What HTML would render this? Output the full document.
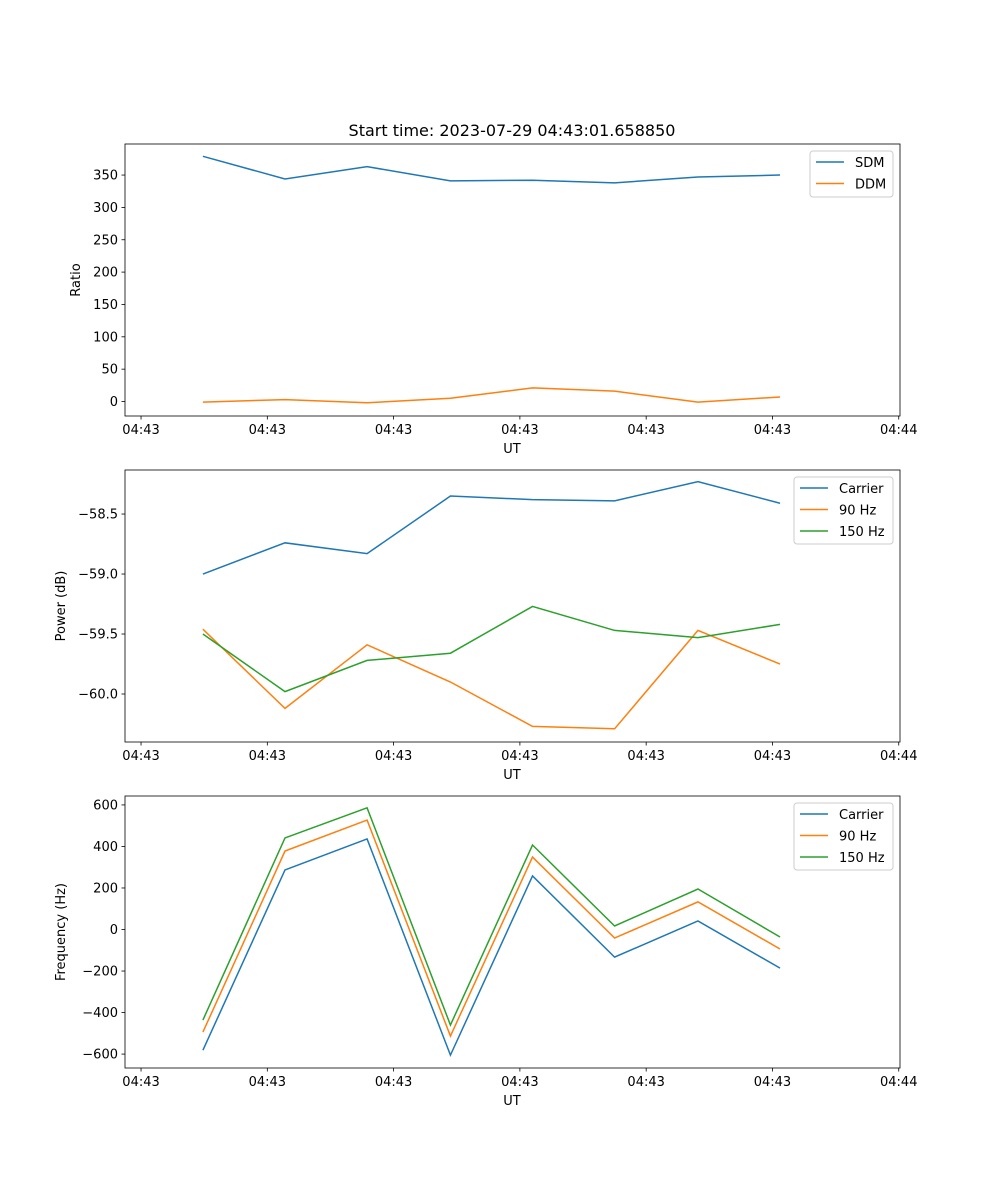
<!DOCTYPE html>
<html><head><meta charset="utf-8"><style>
body{margin:0;background:#fff}
svg{display:block;font-family:"DejaVu Sans","Liberation Sans",sans-serif}
</style></head><body>
<svg id="fig" width="1000" height="1200" xmlns="http://www.w3.org/2000/svg">
<rect width="1000" height="1200" fill="#fff"/>
<text x="512" y="136" font-size="16" text-anchor="middle">Start time: 2023-07-29 04:43:01.658850</text>
</svg>
<script>
const times = [4.9, 11.4, 17.9, 24.5, 31.0, 37.5, 44.1, 50.6];
const xTickValues = [0, 10, 20, 30, 40, 50, 60];
const xTickLabels = ["04:43","04:43","04:43","04:43","04:43","04:43","04:44"];
const sdm = [379, 344, 363, 341, 342, 338, 347, 350];
const ddm = [-1, 3, -2, 5, 21, 16, -1, 7];
const powCarrier = [-59.0, -58.74, -58.83, -58.35, -58.38, -58.39, -58.23, -58.41];
const pow90 = [-59.46, -60.12, -59.59, -59.9, -60.27, -60.29, -59.47, -59.75];
const pow150 = [-59.5, -59.98, -59.72, -59.66, -59.27, -59.47, -59.53, -59.42];
const freqCarrier = [-581, 287, 436, -605, 258, -133, 41, -186];
const freq90 = [-494, 378, 527, -513, 349, -41, 133, -94];
const freq150 = [-436, 441, 586, -460, 407, 17, 195, -36];
const ratioTicks = [0, 50, 100, 150, 200, 250, 300, 350];
const powTicks = [-60.0, -59.5, -59.0, -58.5];
const freqTicks = [-600, -400, -200, 0, 200, 400, 600];

const NS = "http://www.w3.org/2000/svg";
const svg = document.getElementById("fig");
function mk(tag, attrs, parent){const e=document.createElementNS(NS,tag);for(const k in attrs)e.setAttribute(k,attrs[k]);(parent||svg).appendChild(e);return e;}
const L=125,R=900,xMin=-1.27,xMax=60.1;
const xs=t=>L+(t-xMin)/(xMax-xMin)*(R-L);

function panel(top, yMin, yMax, yTicks, fmt, ylabel, series, legendW, name){
  const bot=top+272;
  const ys=v=>bot-(v-yMin)/(yMax-yMin)*272;
  const g=mk("g",{});
  
  
  series.forEach(s=>{
    const p=mk("polyline",{points:s.vals.map((v,i)=>xs(times[i])+","+ys(v)).join(" "),fill:"none",stroke:s.color,"stroke-width":1.5},g);
    
    
  });
  const fr=mk("rect",{x:L,y:top,width:R-L,height:272,fill:"none",stroke:"#000","stroke-width":0.8},g);
  
  
  xTickValues.forEach((t,i)=>{
    const x=xs(t);
    mk("line",{x1:x,x2:x,y1:bot,y2:bot+3.5,stroke:"#000","stroke-width":0.8},g);
    const tx=mk("text",{x:x,y:bot+18,"font-size":13,"text-anchor":"middle"},g);
    tx.textContent=xTickLabels[i];
    
    
  });
  yTicks.forEach(v=>{
    const y=ys(v);
    mk("line",{x1:L-3.5,x2:L,y1:y,y2:y,stroke:"#000","stroke-width":0.8},g);
    const tx=mk("text",{x:L-7,y:y+4.5,"font-size":13,"text-anchor":"end"},g);
    tx.textContent=fmt(v);
    
    
  });
  const xl=mk("text",{x:512,y:bot+37,"font-size":13,"text-anchor":"middle"},g);
  xl.textContent="UT";
  
  
  const lx = ylabel==="Ratio"?80:65;
  const yl=mk("text",{x:lx,y:top+136,"font-size":13,"text-anchor":"middle",transform:`rotate(-90 ${lx} ${top+136})`},g);
  yl.textContent=ylabel;
  
  
  const lx0=893-legendW, lh=4+series.length*21;
  const lg=mk("rect",{x:lx0,y:top+7,width:legendW,height:lh,rx:3,fill:"#fff",stroke:"#ccc"},g);
  
  
  series.forEach((s,i)=>{
    const y=top+18+i*21.5;
    mk("line",{x1:lx0+6,x2:lx0+34,y1:y,y2:y,stroke:s.color,"stroke-width":1.5},g);
    const t=mk("text",{x:lx0+45,y:y+5,"font-size":13},g);
    t.textContent=s.label;
    
    
  });
}
const B="#1f77b4",O="#ff7f0e",G="#2ca02c";
panel(144,-22.4,398,ratioTicks,v=>String(v),"Ratio",[{id:"sdm",label:"SDM",vals:sdm,color:B},{id:"ddm",label:"DDM",vals:ddm,color:O}],83,"ratio-panel");
panel(470,-60.4,-58.133,powTicks,v=>(v<0?"\u2212":"")+Math.abs(v).toFixed(1),"Power (dB)",[{id:"carrier",label:"Carrier",vals:powCarrier,color:B},{id:"hz90",label:"90 Hz",vals:pow90,color:O},{id:"hz150",label:"150 Hz",vals:pow150,color:G}],99,"power-panel");
panel(796,-667,643,freqTicks,v=>(v<0?"\u2212":"")+Math.abs(v),"Frequency (Hz)",[{id:"carrier",label:"Carrier",vals:freqCarrier,color:B},{id:"hz90",label:"90 Hz",vals:freq90,color:O},{id:"hz150",label:"150 Hz",vals:freq150,color:G}],99,"frequency-panel");
</script>
</body></html>
